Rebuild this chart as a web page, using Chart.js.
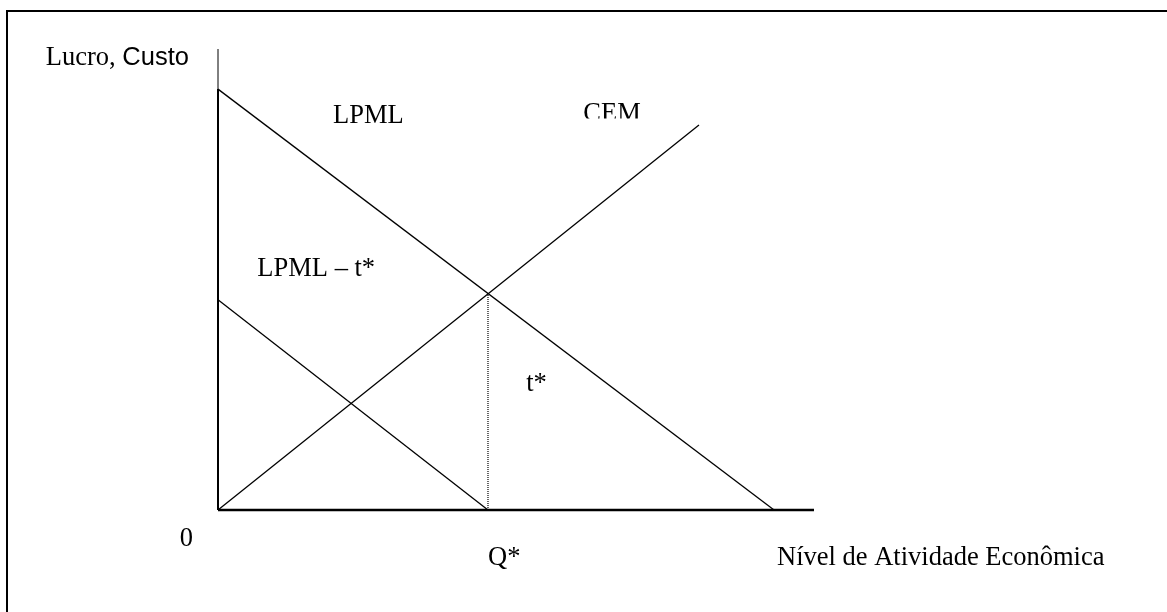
<!DOCTYPE html>
<html>
<head>
<meta charset="utf-8">
<script src="https://cdn.jsdelivr.net/npm/chart.js@4"></script>
<style>
    html, body { margin: 0; padding: 0; background: #fff; overflow: hidden; }
    #wrap { position: relative; width: 1167px; height: 612px; overflow: hidden; }
    #frame { position: absolute; left: 6px; top: 10px; width: 2000px; height: 2000px;
             border-left: 2px solid #000; border-top: 2px solid #000; }
    #reportChart { position: absolute; left: 0; top: 0; }
</style>
</head>
<body>
<div id="wrap">
    <div id="frame"></div>
    <canvas id="reportChart" width="1167" height="612"></canvas>
</div>
<script>
// #### Data (arbitrary units, axes run 0..100)
const qStar = 45.3;
const lpml = [{ x: 0, y: 91.3 }, { x: 93.3, y: 0 }];
const lpmlMinusT = [{ x: 0, y: 45.6 }, { x: qStar, y: 0 }];
const cem = [{ x: 0, y: 0 }, { x: 80.7, y: 83.5 }];
const qStarLine = [{ x: qStar, y: 0 }, { x: qStar, y: 47 }];
const xAxisLine = [{ x: 0, y: 0 }, { x: 100, y: 0 }];
const yAxisLine = [{ x: 0, y: 0 }, { x: 0, y: 100 }];

// text labels, anchored in data units (left edge, baseline)
const labels = [
    { text: 'LPML', x: 19.3, y: 84 },
    { text: 'CEM', x: 61.3, y: 84.4, clip: 2.5 },
    { text: 'LPML \u2013 t*', x: 6.6, y: 50.8 },
    { text: 't*', x: 51.7, y: 25.8 },
    { text: '0', x: -6.4, y: -7.8 },
    { text: 'Q*', x: qStar, y: -12 },
    { text: 'N\u00edvel de Atividade Econ\u00f4mica', x: 93.8, y: -12 }
];
const yTitle = { serif: 'Lucro, ', sans: 'Custo', x: -28.9, y: 96.5 };

const serif = '26.5px "Liberation Serif", "Times New Roman", serif';
const sans = '25.5px "Liberation Sans", Arial, sans-serif';

// #### Labels plugin
const textLabels = {
    id: 'textLabels',
    afterDatasetsDraw(chart) {
        const ctx = chart.ctx;
        const xs = chart.scales.x;
        const ys = chart.scales.y;
        ctx.save();
        ctx.fillStyle = '#000';
        ctx.textBaseline = 'alphabetic';
        ctx.textAlign = 'left';
        labels.forEach(l => {
            const px = xs.getPixelForValue(l.x);
            const py = ys.getPixelForValue(l.y);
            ctx.save();
            if (l.clip) {
                ctx.beginPath();
                ctx.rect(px - 5, py - 60, 200, 60 - l.clip);
                ctx.clip();
            }
            ctx.font = serif;
            ctx.fillText(l.text, px, py);
            ctx.restore();
        });
        // y title mixes two faces
        const tx = xs.getPixelForValue(yTitle.x);
        const ty = ys.getPixelForValue(yTitle.y);
        ctx.font = serif;
        ctx.fillText(yTitle.serif, tx, ty);
        const w = ctx.measureText(yTitle.serif).width;
        ctx.font = sans;
        ctx.fillText(yTitle.sans, tx + w, ty);
        ctx.restore();
    }
};

function lineSet(data, width, dash) {
    return {
        data: data,
        showLine: true,
        borderColor: '#000',
        borderWidth: width,
        borderDash: dash || [],
        pointRadius: 0,
        fill: false,
        clip: false
    };
}

new Chart(document.getElementById('reportChart').getContext('2d'), {
    type: 'scatter',
    data: {
        datasets: [
            lineSet(yAxisLine, 1),
            lineSet([yAxisLine[0], lpml[0]], 2),
            lineSet(xAxisLine, 2.5),
            lineSet(lpml, 1.3),
            lineSet(lpmlMinusT, 1.3),
            lineSet(cem, 1.3),
            lineSet(qStarLine, 1.2, [1, 1])
        ]
    },
    options: {
        responsive: false,
        animation: false,
        devicePixelRatio: 1,
        layout: { padding: { left: 218, right: 353, top: 49, bottom: 102 } },
        scales: {
            x: { type: 'linear', min: 0, max: 100, display: false },
            y: { type: 'linear', min: 0, max: 100, display: false }
        },
        plugins: {
            legend: { display: false },
            tooltip: { enabled: false }
        }
    },
    plugins: [textLabels]
});
</script>
</body>
</html>
